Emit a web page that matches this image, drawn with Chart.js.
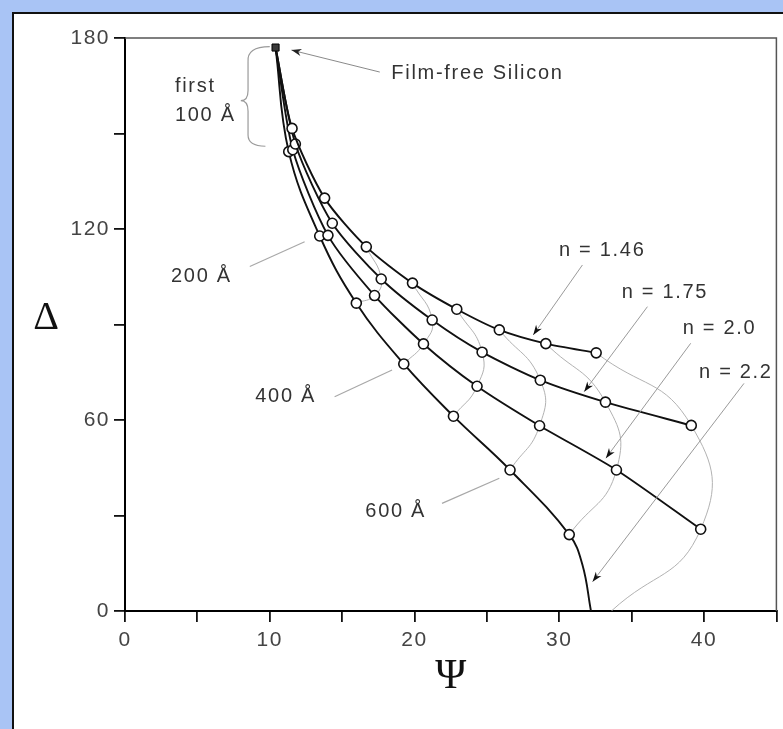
<!DOCTYPE html>
<html>
<head>
<meta charset="utf-8">
<script src="https://cdn.jsdelivr.net/npm/chart.js@4/dist/chart.umd.min.js"></script>
<style>
html,body{margin:0;padding:0;background:#a9c4f5;}
#wrap{width:783px;height:729px;}
</style>
</head>
<body>
<div id="wrap"><canvas id="c" width="783" height="729"></canvas></div>
<script>
// ---- data (Psi, Delta in degrees) ----
const filmFree = [10.4, 177.0];
const thicknessA = [100, 200, 300, 400, 500, 600, 700, 800];
const n146Psi = [11.54, 13.79, 16.67, 19.86, 22.92, 25.86, 29.07, 32.55];
const n146Del = [151.6, 129.7, 114.4, 103.0, 94.8, 88.3, 84.0, 81.1];
const n175Psi = [11.77, 14.32, 17.70, 21.22, 24.67, 28.69, 33.19, 39.12];
const n175Del = [146.7, 121.8, 104.3, 91.4, 81.3, 72.5, 65.6, 58.3];
const n20Psi  = [11.59, 14.02, 17.24, 20.62, 24.32, 28.64, 33.95, 39.77];
const n20Del  = [144.9, 118.0, 99.1, 83.9, 70.6, 58.2, 44.3, 25.7];
const n22Psi  = [11.31, 13.45, 15.98, 19.26, 22.69, 26.60, 30.69];
const n22Del  = [144.3, 117.8, 96.7, 77.6, 61.2, 44.3, 24.0];
const n22TailPsi = [31.6, 32.19];    // n = 2.2 curve beyond 700 Å, down to Delta = 0
const n22TailDel = [14.5, 0];
const arc800End = [33.6, 0];         // 800 Å contour meets Delta = 0

const xTicks = [0, 10, 20, 30, 40];
const yTicks = [0, 60, 120, 180];

const nLabels = ['n = 1.46', 'n = 1.75', 'n = 2.0', 'n = 2.2'];
const nLabelAt = [[32.97, 113.1], [37.3, 100.1], [41.07, 88.75], [42.2, 74.9]];
const nLeaderFrom = [[31.6, 108.7], [36.09, 95.6], [39.08, 84.1], [42.76, 71.5]];
const nLeaderTo   = [[28.2, 86.7], [31.72, 68.9], [33.22, 48.0], [32.3, 9.2]];

const tLabels = ['200 Å', '400 Å', '600 Å'];
const tLabelAt = [[5.28, 105.2], [11.1, 67.4], [18.7, 31.3]];
const tLeaderFrom = [[8.62, 108.2], [14.48, 67.3], [21.9, 33.8]];
const tLeaderTo   = [[12.41, 116.0], [18.45, 75.7], [25.86, 41.7]];

// ---- build datasets ----
function curve(psi, del, tailPsi, tailDel) {
  const pts = [{x: filmFree[0], y: filmFree[1], m: false}];
  for (let i = 0; i < psi.length; i++) pts.push({x: psi[i], y: del[i], m: true});
  if (tailPsi) tailPsi.forEach((p, i) => pts.push({x: p, y: tailDel[i], m: false}));
  return pts;
}
const curves = [
  curve(n146Psi, n146Del),
  curve(n175Psi, n175Del),
  curve(n20Psi, n20Del),
  curve(n22Psi, n22Del, n22TailPsi, n22TailDel)
];
const series = [[n146Psi, n146Del], [n175Psi, n175Del], [n20Psi, n20Del], [n22Psi, n22Del]];

const datasets = [];
curves.forEach((pts, ci) => {
  datasets.push({
    data: pts,
    showLine: true,
    borderColor: '#111',
    borderWidth: 1.9,
    tension: ci === 3 ? 0.4 : 0.25,
    pointRadius: (ctx) => (pts[ctx.dataIndex] && pts[ctx.dataIndex].m) ? 5 : 0,
    pointBackgroundColor: '#fff',
    pointBorderColor: '#111',
    pointBorderWidth: 1.6,
    order: 1
  });
});
// thickness contours (thin grey)
for (let k = 2; k < thicknessA.length; k++) {
  const pts = [];
  series.forEach(([p, d]) => { if (k < p.length) pts.push({x: p[k], y: d[k]}); });
  if (k === thicknessA.length - 1) pts.push({x: arc800End[0], y: arc800End[1]});
  datasets.push({
    data: pts, showLine: true, borderColor: '#b2b2b2', borderWidth: 1,
    tension: 0.5, pointRadius: 0, order: 5
  });
}
// film-free silicon marker
datasets.push({
  data: [{x: filmFree[0], y: filmFree[1]}],
  pointStyle: 'rect', pointRadius: 5,
  pointBackgroundColor: '#3a3a3a', pointBorderColor: '#000', pointBorderWidth: 1,
  showLine: false, order: 0
});

// ---- plugins ----
const bgPlugin = {
  id: 'bg',
  beforeDraw(chart) {
    const c = chart.ctx;
    c.save();
    c.fillStyle = '#a9c4f5';
    c.fillRect(0, 0, chart.width, chart.height);
    c.fillStyle = '#ffffff';
    c.fillRect(13, 13, chart.width, chart.height);
    c.strokeStyle = '#111';
    c.lineWidth = 2;
    c.beginPath();
    c.moveTo(13, chart.height); c.lineTo(13, 13); c.lineTo(chart.width, 13);
    c.stroke();
    c.restore();
    try { c.letterSpacing = '1.5px'; } catch (e) {}
  }
};

function arrowHead(c, x0, y0, x1, y1, len, half) {
  const a = Math.atan2(y1 - y0, x1 - x0);
  c.beginPath();
  c.moveTo(x1, y1);
  c.lineTo(x1 - len * Math.cos(a) + half * Math.sin(a), y1 - len * Math.sin(a) - half * Math.cos(a));
  c.lineTo(x1 - len * 0.7 * Math.cos(a), y1 - len * 0.7 * Math.sin(a));
  c.lineTo(x1 - len * Math.cos(a) - half * Math.sin(a), y1 - len * Math.sin(a) + half * Math.cos(a));
  c.closePath();
  c.fill();
}

const annoPlugin = {
  id: 'anno',
  afterDraw(chart) {
    const c = chart.ctx;
    const xs = chart.scales.x, ys = chart.scales.y;
    const X = (v) => xs.getPixelForValue(v), Y = (v) => ys.getPixelForValue(v);
    const a = chart.chartArea;
    c.save();
    // top & right frame
    c.strokeStyle = '#555';
    c.lineWidth = 1.5;
    c.beginPath();
    c.moveTo(a.left, a.top); c.lineTo(a.right, a.top); c.lineTo(a.right, a.bottom);
    c.stroke();

    c.font = '20px "Liberation Sans", Arial, sans-serif';
    try { c.letterSpacing = '1.7px'; } catch (e) {}
    c.fillStyle = '#333';
    c.textBaseline = 'middle';

    // n labels with arrows
    nLabels.forEach((t, i) => {
      c.textAlign = 'center';
      c.fillStyle = '#333';
      c.fillText(t, X(nLabelAt[i][0]), Y(nLabelAt[i][1]));
      const x0 = X(nLeaderFrom[i][0]), y0 = Y(nLeaderFrom[i][1]);
      const x1 = X(nLeaderTo[i][0]), y1 = Y(nLeaderTo[i][1]);
      c.strokeStyle = '#9a9a9a'; c.lineWidth = 1;
      c.beginPath(); c.moveTo(x0, y0); c.lineTo(x1, y1); c.stroke();
      c.fillStyle = '#111';
      arrowHead(c, x0, y0, x1, y1, 10, 3.5);
    });
    // thickness labels
    tLabels.forEach((t, i) => {
      c.textAlign = 'center';
      c.fillStyle = '#333';
      c.fillText(t, X(tLabelAt[i][0]), Y(tLabelAt[i][1]));
      c.strokeStyle = '#a8a8a8'; c.lineWidth = 1.2;
      c.beginPath();
      c.moveTo(X(tLeaderFrom[i][0]), Y(tLeaderFrom[i][1]));
      c.lineTo(X(tLeaderTo[i][0]), Y(tLeaderTo[i][1]));
      c.stroke();
    });
    // film-free silicon
    c.textAlign = 'left';
    c.fillStyle = '#333';
    c.fillText('Film-free Silicon', X(18.4), Y(169.0));
    {
      const x0 = X(17.6), y0 = Y(169.3), x1 = X(11.5), y1 = Y(176.2);
      c.strokeStyle = '#8a8a8a'; c.lineWidth = 1;
      c.beginPath(); c.moveTo(x0, y0); c.lineTo(x1, y1); c.stroke();
      c.fillStyle = '#222';
      arrowHead(c, x0, y0, x1, y1, 10, 3.5);
    }
    // first 100 Å with brace
    c.fillStyle = '#333';
    c.fillText('first', X(3.45), Y(164.8));
    c.fillText('100 Å', X(3.45), Y(155.8));
    c.strokeStyle = '#9a9a9a'; c.lineWidth = 1.2;
    c.beginPath();
    c.moveTo(X(10.0), Y(177.3));
    c.quadraticCurveTo(X(8.4), Y(177.3), X(8.5), Y(172.5));
    c.lineTo(X(8.5), Y(163.5));
    c.quadraticCurveTo(X(8.5), Y(160.3), X(8.0), Y(160.3));
    c.quadraticCurveTo(X(8.5), Y(160.3), X(8.5), Y(157.0));
    c.lineTo(X(8.5), Y(149.5));
    c.quadraticCurveTo(X(8.5), Y(146.0), X(9.7), Y(146.0));
    c.stroke();

    // axis titles
    try { c.letterSpacing = '0px'; } catch (e) {}
    c.fillStyle = '#111';
    c.textAlign = 'center';
    c.font = '40px "Liberation Serif", "DejaVu Serif", serif';
    c.fillText('Δ', a.left - 79, Y(92));
    c.font = '42px "Liberation Serif", "DejaVu Serif", serif';
    c.fillText('Ψ', X(22.5), a.bottom + 66);
    c.restore();
  }
};

const tickFont = {family: '"Liberation Sans", Arial, sans-serif', size: 21};

new Chart(document.getElementById('c'), {
  type: 'scatter',
  data: {datasets},
  options: {
    responsive: false,
    devicePixelRatio: 1,
    animation: false,
    layout: {padding: {top: 38, right: 6, left: 0, bottom: 0}},
    plugins: {legend: {display: false}, tooltip: {enabled: false}},
    scales: {
      x: {
        type: 'linear', min: 0, max: 45,
        afterFit(s) { s.height = 118; },
        ticks: {
          stepSize: 5, color: '#444', font: tickFont, padding: 6,
          callback: (v) => xTicks.includes(v) ? String(v) : ''
        },
        grid: {drawOnChartArea: false, drawTicks: true, tickLength: 11, color: '#111', lineWidth: 1.8},
        border: {display: true, color: '#000', width: 2}
      },
      y: {
        type: 'linear', min: 0, max: 180,
        afterFit(s) { s.width = 125; },
        ticks: {
          stepSize: 30, color: '#444', font: tickFont, padding: 4,
          callback: (v) => yTicks.includes(v) ? String(v) : ''
        },
        grid: {drawOnChartArea: false, drawTicks: true, tickLength: 11, color: '#111', lineWidth: 1.8},
        border: {display: true, color: '#000', width: 2}
      }
    }
  },
  plugins: [bgPlugin, annoPlugin]
});
</script>
</body>
</html>
